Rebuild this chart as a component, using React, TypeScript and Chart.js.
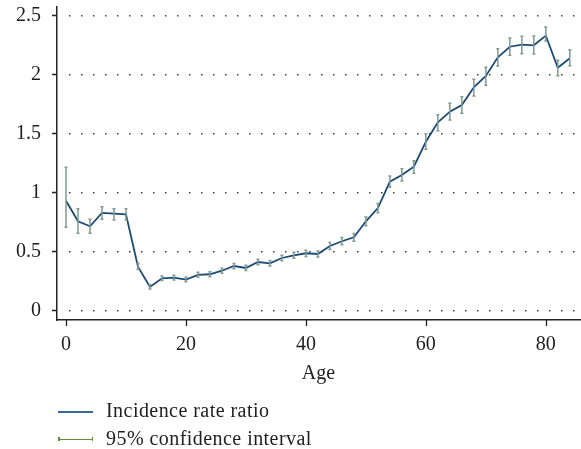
import React, { useEffect, useRef } from 'react';
import { Chart, registerables } from 'chart.js';

Chart.register(...registerables);

const ages = [0, 2, 4, 6, 8, 10, 12, 14, 16, 18, 20, 22, 24, 26, 28, 30, 32, 34, 36, 38, 40, 42, 44, 46, 48, 50, 52, 54, 56, 58, 60, 62, 64, 66, 68, 70, 72, 74, 76, 78, 80, 82, 84];
const irr = [0.933, 0.758, 0.716, 0.829, 0.823, 0.818, 0.373, 0.201, 0.275, 0.28, 0.263, 0.303, 0.309, 0.339, 0.379, 0.362, 0.413, 0.402, 0.447, 0.47, 0.487, 0.481, 0.549, 0.589, 0.623, 0.758, 0.87, 1.094, 1.151, 1.221, 1.433, 1.598, 1.688, 1.745, 1.895, 1.991, 2.149, 2.239, 2.256, 2.251, 2.333, 2.061, 2.141];
const ciLow = [0.707, 0.656, 0.656, 0.775, 0.769, 0.769, 0.351, 0.185, 0.255, 0.26, 0.245, 0.283, 0.288, 0.318, 0.356, 0.34, 0.39, 0.38, 0.423, 0.445, 0.46, 0.455, 0.52, 0.56, 0.59, 0.72, 0.83, 1.047, 1.1, 1.165, 1.369, 1.527, 1.617, 1.674, 1.821, 1.912, 2.076, 2.166, 2.18, 2.177, 2.287, 1.993, 2.078];
const ciHigh = [1.216, 0.865, 0.775, 0.882, 0.865, 0.865, 0.402, 0.22, 0.295, 0.3, 0.285, 0.325, 0.33, 0.36, 0.4, 0.385, 0.437, 0.425, 0.47, 0.495, 0.512, 0.507, 0.578, 0.62, 0.655, 0.795, 0.91, 1.142, 1.205, 1.272, 1.499, 1.662, 1.759, 1.815, 1.963, 2.064, 2.222, 2.313, 2.327, 2.33, 2.406, 2.124, 2.214];
const xTicks = [0, 20, 40, 60, 80];
const yTicks = [0, 0.5, 1, 1.5, 2, 2.5];
const yTickLabels = ['0', '0.5', '1', '1.5', '2', '2.5'];
const xTitle = 'Age';
const legendLabels = ['Incidence rate ratio', '95% confidence interval'];

const FONT = "'Liberation Serif', 'Times New Roman', serif";
const LINE_COLOR = '#1c4a74';
const CI_COLOR = '#7e9c90';
const CI_LEGEND_COLOR = '#5f8c3e';
const TEXT_COLOR = '#1e1e1e';

const decorPlugin = {
  id: 'decor',
  beforeDatasetsDraw(chart: any) {
    const { ctx, chartArea, scales } = chart;
    const x = scales.x;
    const y = scales.y;
    ctx.save();
    ctx.fillStyle = '#3a3a3a';
    yTicks.forEach((v) => {
      const py = Math.round(y.getPixelForValue(v));
      for (let px = chartArea.left + 12; px < chartArea.right - 1; px += 12) {
        ctx.fillRect(Math.round(px), py - 1, 1.5, 1.5);
      }
    });
    ctx.strokeStyle = '#222';
    ctx.lineWidth = 1.3;
    ctx.beginPath();
    yTicks.forEach((v) => {
      const py = Math.round(y.getPixelForValue(v)) - 0.5;
      ctx.moveTo(chartArea.left - 5, py);
      ctx.lineTo(chartArea.left, py);
    });
    xTicks.forEach((v) => {
      const px = Math.round(x.getPixelForValue(v)) + 0.5;
      ctx.moveTo(px, chartArea.bottom);
      ctx.lineTo(px, chartArea.bottom + 6);
    });
    ctx.stroke();
    ctx.restore();
  },
};

const errorBarPlugin = {
  id: 'errorBars',
  afterDatasetsDraw(chart: any) {
    const { ctx, scales } = chart;
    const x = scales.x;
    const y = scales.y;
    ctx.save();
    ctx.strokeStyle = CI_COLOR;
    ctx.lineWidth = 1.5;
    ages.forEach((a, i) => {
      const px = x.getPixelForValue(a);
      const pl = y.getPixelForValue(ciLow[i]);
      const ph = y.getPixelForValue(ciHigh[i]);
      ctx.beginPath();
      ctx.moveTo(px, pl);
      ctx.lineTo(px, ph);
      ctx.moveTo(px - 1.5, pl);
      ctx.lineTo(px + 1.5, pl);
      ctx.moveTo(px - 1.5, ph);
      ctx.lineTo(px + 1.5, ph);
      ctx.stroke();
    });
    ctx.restore();
  },
};

export default function App() {
  const canvasRef = useRef<HTMLCanvasElement | null>(null);

  useEffect(() => {
    const canvas = canvasRef.current;
    if (!canvas) return;
    const chart = new Chart(canvas, {
      type: 'line',
      data: {
        datasets: [
          {
            label: legendLabels[0],
            data: ages.map((a, i) => ({ x: a, y: irr[i] })),
            borderColor: LINE_COLOR,
            borderWidth: 1.8,
            pointRadius: 0,
            tension: 0,
            fill: false,
          },
        ],
      },
      options: {
        responsive: false,
        animation: false,
        layout: { padding: { top: 7, right: 1, bottom: 59, left: 0 } },
        plugins: { legend: { display: false }, tooltip: { enabled: false } },
        scales: {
          x: {
            type: 'linear',
            min: -1.5,
            max: 85.7,
            afterBuildTicks: (s: any) => {
              s.ticks = xTicks.map((v) => ({ value: v }));
            },
            afterFit: (s: any) => {
              s.height = 70;
              s.paddingLeft = 0;
              s.paddingRight = 0;
            },
            grid: { display: false, drawTicks: false },
            border: { display: true, color: '#222', width: 1.5 },
            ticks: {
              autoSkip: false,
              maxRotation: 0,
              padding: 13,
              color: TEXT_COLOR,
              font: { family: FONT, size: 20 },
              callback: (v: any) => String(v),
            },
            title: {
              display: true,
              text: xTitle,
              color: TEXT_COLOR,
              font: { family: FONT, size: 20 },
              padding: { top: 0, bottom: 4.5 },
            },
          },
          y: {
            type: 'linear',
            min: -0.079,
            max: 2.576,
            afterBuildTicks: (s: any) => {
              s.ticks = yTicks.map((v) => ({ value: v }));
            },
            afterFit: (s: any) => {
              s.width = 57;
              s.paddingTop = 0;
              s.paddingBottom = 0;
            },
            grid: { display: false, drawTicks: false },
            border: { display: true, color: '#222', width: 1.5 },
            ticks: {
              autoSkip: false,
              padding: 16,
              color: TEXT_COLOR,
              font: { family: FONT, size: 20 },
              callback: (v: any) => {
                const idx = yTicks.indexOf(Number(v));
                return idx >= 0 ? yTickLabels[idx] : '';
              },
            },
          },
        },
      },
      plugins: [decorPlugin, errorBarPlugin],
    });
    return () => chart.destroy();
  }, []);

  const textStyle: React.CSSProperties = {
    position: 'absolute',
    left: 106,
    fontFamily: FONT,
    fontSize: 20,
    lineHeight: '20px',
    letterSpacing: '0.45px',
    color: TEXT_COLOR,
    whiteSpace: 'nowrap',
  };

  return (
    <div style={{ position: 'absolute', left: 0, top: 0, width: 581, height: 449, background: '#fff', overflow: 'hidden' }}>
      <canvas ref={canvasRef} width={581} height={449} style={{ width: 581, height: 449, display: 'block' }} />
      <div style={{ position: 'absolute', left: 58, top: 411, width: 35, height: 1.5, background: '#3e6a92' }} />
      <div style={{ ...textStyle, top: 400 }}>{legendLabels[0]}</div>
      <div style={{ position: 'absolute', left: 58, top: 438.5, width: 35, height: 1.5, background: CI_LEGEND_COLOR }} />
      <div style={{ position: 'absolute', left: 58, top: 437, width: 1.5, height: 4, background: CI_LEGEND_COLOR }} />
      <div style={{ position: 'absolute', left: 91.5, top: 437, width: 1.5, height: 4, background: CI_LEGEND_COLOR }} />
      <div style={{ ...textStyle, top: 428 }}>{legendLabels[1]}</div>
    </div>
  );
}
